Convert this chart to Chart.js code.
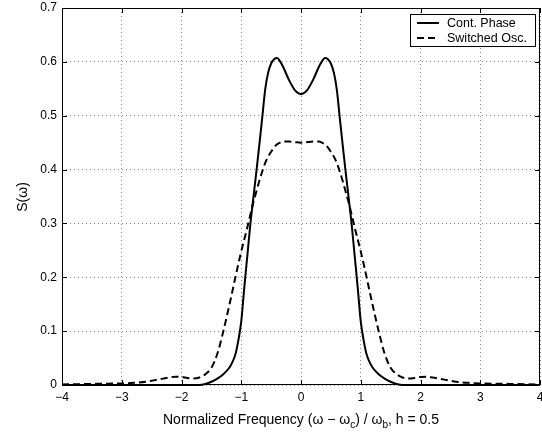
<!DOCTYPE html>
<html>
<head>
<meta charset="utf-8">
<script src="https://cdn.jsdelivr.net/npm/chart.js@4/dist/chart.umd.min.js"></script>
<style>
html,body{margin:0;padding:0;background:#fff;}
#wrap{width:542px;height:438px;}
</style>
</head>
<body>
<div id="wrap"><canvas id="c" width="542" height="438"></canvas></div>
<script>
const xs = [-4,-3.5,-3,-2.8,-2.6,-2.4,-2.2,-2.1,-2,-1.9,-1.8,-1.7,-1.6,-1.5,-1.4,-1.3,-1.2,-1.15,-1.1,-1.05,-1,-0.95,-0.9,-0.85,-0.8,-0.75,-0.7,-0.65,-0.6,-0.55,-0.5,-0.45,-0.4,-0.35,-0.3,-0.2,-0.1,0,0.1,0.2,0.3,0.35,0.4,0.45,0.5,0.55,0.6,0.65,0.7,0.75,0.8,0.85,0.9,0.95,1,1.05,1.1,1.15,1.2,1.3,1.4,1.5,1.6,1.7,1.8,1.9,2,2.1,2.2,2.4,2.6,2.8,3,3.5,4];
const contPhase = [0,0,0,0,0,0,0,0,0,0,0,0,0.002,0.006,0.012,0.020,0.032,0.042,0.056,0.082,0.118,0.180,0.238,0.296,0.345,0.393,0.443,0.495,0.548,0.580,0.597,0.605,0.607,0.601,0.591,0.566,0.547,0.540,0.547,0.566,0.591,0.601,0.607,0.605,0.597,0.580,0.548,0.495,0.443,0.393,0.345,0.296,0.238,0.180,0.118,0.082,0.056,0.042,0.032,0.020,0.012,0.006,0.002,0,0,0,0,0,0,0,0,0,0,0,0];
const switchedOsc = [0.001,0.002,0.003,0.004,0.006,0.010,0.014,0.0155,0.015,0.013,0.012,0.014,0.020,0.032,0.058,0.100,0.148,0.173,0.199,0.224,0.248,0.270,0.292,0.315,0.338,0.358,0.378,0.396,0.412,0.424,0.433,0.441,0.447,0.450,0.452,0.452,0.451,0.450,0.451,0.452,0.452,0.450,0.447,0.441,0.433,0.424,0.412,0.396,0.378,0.358,0.338,0.315,0.292,0.270,0.248,0.224,0.199,0.173,0.148,0.100,0.058,0.032,0.020,0.014,0.012,0.013,0.015,0.0155,0.014,0.010,0.006,0.004,0.003,0.002,0.001];
const seriesLabels = ["Cont. Phase", "Switched Osc."];
const xTicks = [-4,-3,-2,-1,0,1,2,3,4];
const yTicks = [0,0.1,0.2,0.3,0.4,0.5,0.6,0.7];
const yTitle = "S(\u03c9)";
const xTitleParts = [["Normalized Frequency (\u03c9 \u2212 \u03c9",false],["c",true],[") / \u03c9",false],["b",true],[", h = 0.5",false]];

const FONT = '"Liberation Sans", Arial, Helvetica, sans-serif';

function pts(vals){ return xs.map((x,i)=>({x:x,y:vals[i]})); }

const decor = {
  id:'decor',
  afterDraw(chart){
    const ctx = chart.ctx, a = chart.chartArea;
    const xs_ = chart.scales.x, ys_ = chart.scales.y;
    ctx.save();
    // frame
    ctx.strokeStyle = '#000';
    ctx.lineWidth = 1;
    ctx.strokeRect(Math.round(a.left)+0.5, Math.round(a.top)+0.5, Math.round(a.right-a.left)-1, Math.round(a.bottom-a.top)-1);
    // inward ticks
    ctx.beginPath();
    const L = 5;
    xTicks.forEach(v=>{
      const p = Math.round(xs_.getPixelForValue(v))+0.5;
      ctx.moveTo(p, a.bottom); ctx.lineTo(p, a.bottom-L);
      ctx.moveTo(p, a.top); ctx.lineTo(p, a.top+L);
    });
    yTicks.forEach(v=>{
      const p = Math.round(ys_.getPixelForValue(v))+0.5;
      ctx.moveTo(a.left, p); ctx.lineTo(a.left+L, p);
      ctx.moveTo(a.right, p); ctx.lineTo(a.right-L, p);
    });
    ctx.stroke();
    // legend
    const bx=410.5, by=14.5, bw=125, bh=32;
    ctx.fillStyle='#fff';
    ctx.fillRect(bx,by,bw,bh);
    ctx.strokeRect(bx,by,bw,bh);
    ctx.font = '12.5px '+FONT;
    ctx.textBaseline='middle';
    ctx.textAlign='left';
    ctx.fillStyle='#000';
    const rows=[23,38];
    chart.data.datasets.forEach((ds,i)=>{
      ctx.beginPath();
      ctx.lineWidth=2;
      ctx.setLineDash(ds.borderDash||[]);
      ctx.moveTo(417, rows[i]); ctx.lineTo(439, rows[i]);
      ctx.stroke();
      ctx.setLineDash([]);
      ctx.fillText(ds.label, 447, rows[i]+0.5);
    });
    // y title
    ctx.save();
    ctx.translate(23, 197);
    ctx.rotate(-Math.PI/2);
    ctx.textAlign='center';
    ctx.textBaseline='middle';
    ctx.font='14px '+FONT;
    ctx.fillText(yTitle,0,0);
    ctx.restore();
    // x title with subscripts
    const mainF='14px '+FONT, subF='10px '+FONT;
    let total=0;
    xTitleParts.forEach(([t,s])=>{ctx.font=s?subF:mainF; total+=ctx.measureText(t).width;});
    let x = (a.left+a.right)/2 - total/2;
    const base = 424;
    ctx.textBaseline='alphabetic';
    xTitleParts.forEach(([t,s])=>{
      ctx.font=s?subF:mainF;
      ctx.fillText(t, x, s?base+4:base);
      x+=ctx.measureText(t).width;
    });
    ctx.restore();
  }
};

new Chart(document.getElementById('c'), {
  type:'line',
  data:{
    datasets:[
      {label:seriesLabels[0], data:pts(contPhase), borderColor:'#000', borderWidth:2, pointRadius:0, cubicInterpolationMode:'monotone', fill:false, clip:4},
      {label:seriesLabels[1], data:pts(switchedOsc), borderColor:'#000', borderWidth:2, borderDash:[7,4], pointRadius:0, cubicInterpolationMode:'monotone', fill:false, clip:4}
    ]
  },
  options:{
    responsive:false,
    animation:false,
    events:[],
    layout:{padding:{left:0,right:2,top:8,bottom:0}},
    plugins:{legend:{display:false}, tooltip:{enabled:false}, title:{display:false}},
    scales:{
      x:{
        type:'linear', min:-4, max:4,
        afterBuildTicks(s){ s.ticks = xTicks.map(v=>({value:v})); },
        afterFit(s){ s.height=53; s.paddingLeft=0; s.paddingRight=0; },
        ticks:{ padding:5, color:'#000', font:{family:FONT,size:12}, maxRotation:0, autoSkip:false,
          callback:(v)=> v<0 ? '\u2212'+Math.abs(v) : String(v) },
        grid:{ color:'#8c8c8c', lineWidth:1, drawTicks:false },
        border:{ display:false, dash:[1,3] }
      },
      y:{
        type:'linear', min:0, max:0.7,
        afterBuildTicks(s){ s.ticks = yTicks.map(v=>({value:v})); },
        afterFit(s){ s.width=62; s.paddingTop=0; s.paddingBottom=0; },
        ticks:{ padding:5, color:'#000', font:{family:FONT,size:12}, autoSkip:false,
          callback:(v)=> v===0 ? '0' : Number(v).toFixed(1) },
        grid:{ color:'#8c8c8c', lineWidth:1, drawTicks:false },
        border:{ display:false, dash:[1,3] }
      }
    }
  },
  plugins:[decor]
});
</script>
</body>
</html>
